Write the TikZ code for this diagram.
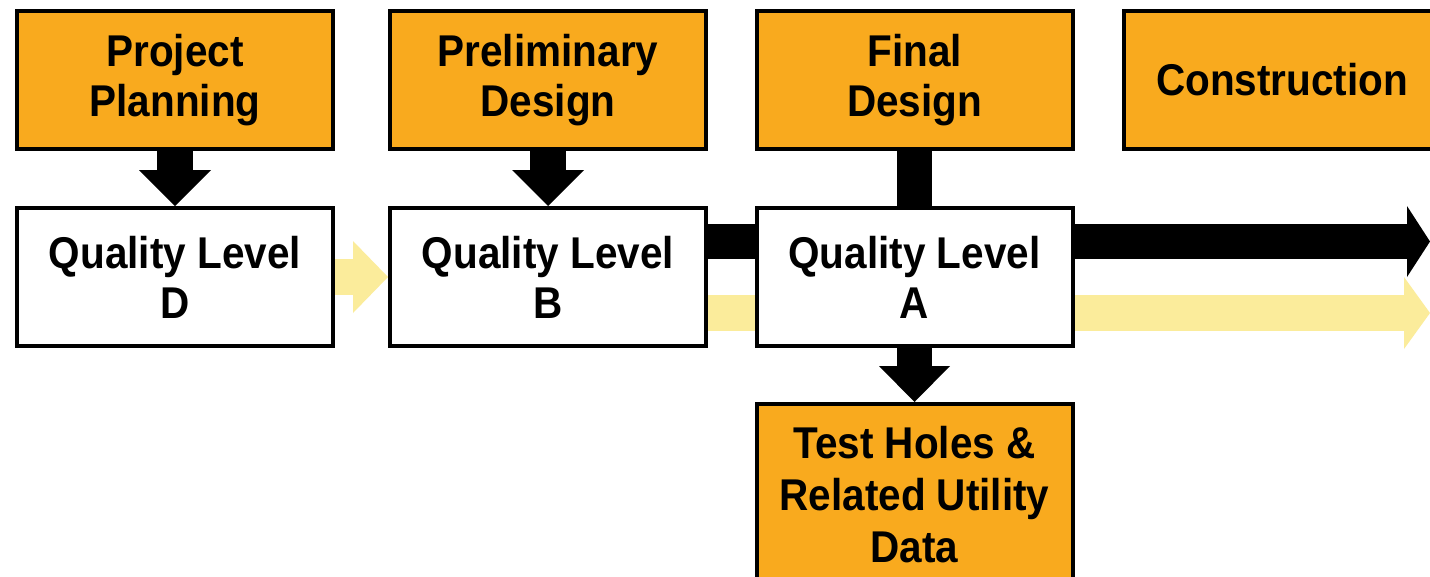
\documentclass[tikz,border=0pt]{standalone}
\usepackage{fontspec}
\setmainfont{Liberation Sans}[FakeStretch=0.91]
\usetikzlibrary{arrows.meta,backgrounds}
\definecolor{boxorange}{RGB}{249,170,30}
\definecolor{paleyellow}{RGB}{251,236,155}
\tikzset{
  box/.style={draw=black, line width=4pt, minimum width=316pt, minimum height=138pt,
    inner sep=0pt, align=center, font=\fontsize{44.5}{50}\selectfont\bfseries},
  stage/.style={box, fill=boxorange},
  level/.style={box, fill=white},
  blackarrow/.style={line width=36pt, draw=black},
  yellowarrow/.style={line width=36pt, draw=paleyellow},
}
\begin{document}
\begin{tikzpicture}[x=1pt,y=-1pt]
\useasboundingbox (0,0) rectangle (1430,576);
\clip (0,0) rectangle (1430,576);
\node[stage] (pp) at (175,80) {Project\\Planning};
\node[stage] (pd) at (548,80) {Preliminary\\Design};
\node[stage] (fd) at (914.5,80) {Final\\Design};
\node[stage] (cn) at (1282,80) {Construction};
\node[level] (qd) at (175,277) {Quality Level\\D};
\node[level] (qb) at (548,277) {Quality Level\\B};
\node[level] (qa) at (914.5,277) {Quality Level\\A};
\node[stage, minimum height=181pt, font=\fontsize{44.5}{52}\selectfont\bfseries] (th) at (914.5,494.5) {Test Holes \&\\Related Utility\\Data};
\coordinate (blkEnd) at (1430,241.5);
\coordinate (ylwEnd) at (1430,313);
\begin{pgfonlayer}{background}
\fill[white] (0,0) rectangle (1430,576);
\draw[blackarrow, -{Triangle[length=36pt,width=72pt,line width=0pt]}] (pp.south) -- (qd.north);
\draw[blackarrow, -{Triangle[length=36pt,width=72pt,line width=0pt]}] (pd.south) -- (qb.north);
\draw[blackarrow, line width=35pt, -{Triangle[length=36pt,width=71pt,line width=0pt]}] (fd.south) -- (th.north);
\draw[yellowarrow, -{Triangle[length=35pt,width=72pt,line width=0pt]}] (qd.east) -- (qb.west);
\draw[blackarrow, line width=35pt, -{Triangle[length=23pt,width=71pt,line width=0pt]}] ([yshift=35.5pt]qb.east) -- (blkEnd);
\draw[yellowarrow, -{Triangle[length=26pt,width=72pt,line width=0pt]}] ([yshift=-36pt]qb.east) -- (ylwEnd);
\end{pgfonlayer}
\end{tikzpicture}
\end{document}
